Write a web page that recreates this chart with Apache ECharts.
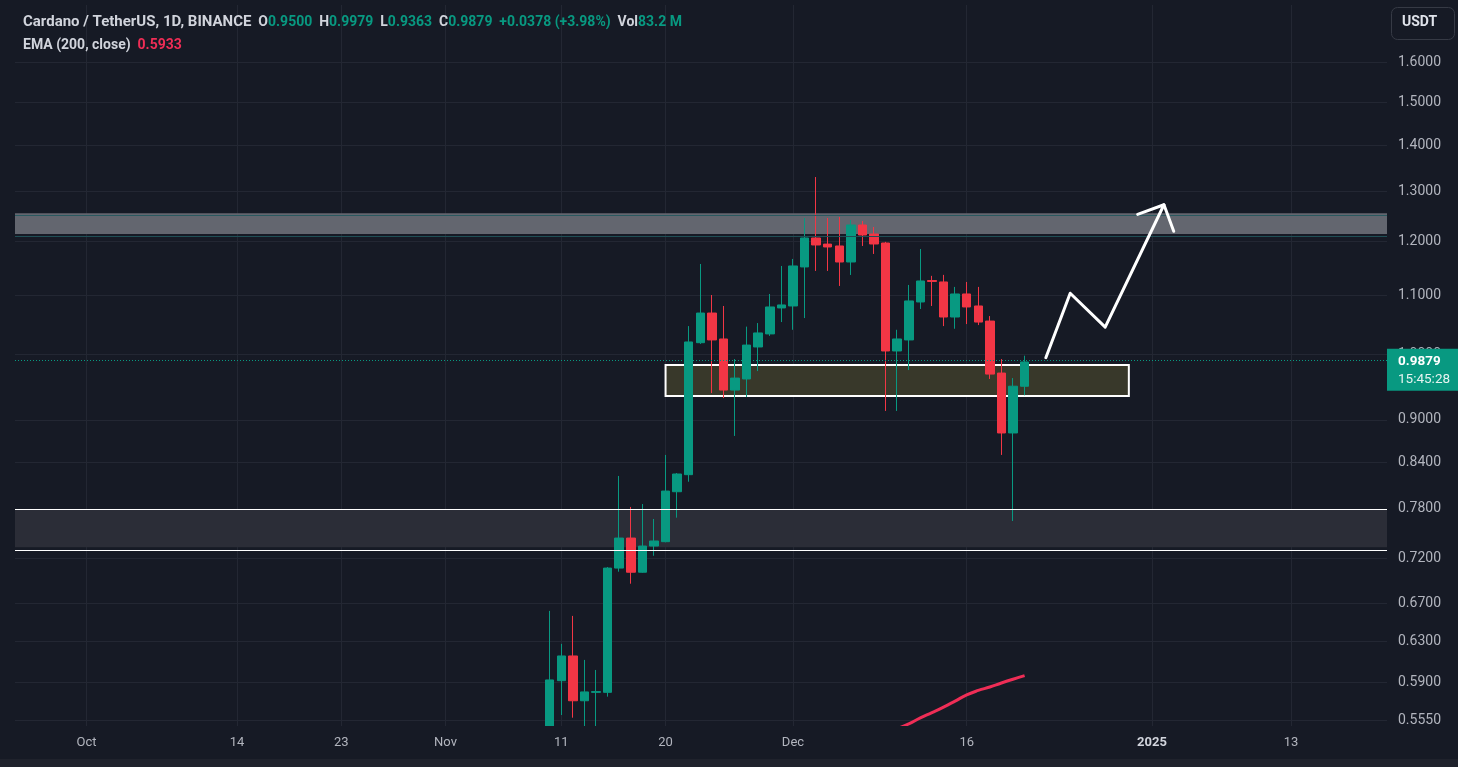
<!DOCTYPE html>
<html>
<head>
<meta charset="utf-8">
<script src="https://cdn.jsdelivr.net/npm/echarts@6/dist/echarts.min.js"></script>
<style>
html,body{margin:0;padding:0;background:#161a25;}
#c{width:1458px;height:767px;}
</style>
</head>
<body>
<div id="c"></div>
<script>
// ---------- data ----------
const dates = ['2024-11-10','2024-11-11','2024-11-12','2024-11-13','2024-11-14','2024-11-15','2024-11-16','2024-11-17','2024-11-18','2024-11-19','2024-11-20','2024-11-21','2024-11-22','2024-11-23','2024-11-24','2024-11-25','2024-11-26','2024-11-27','2024-11-28','2024-11-29','2024-11-30','2024-12-01','2024-12-02','2024-12-03','2024-12-04','2024-12-05','2024-12-06','2024-12-07','2024-12-08','2024-12-09','2024-12-10','2024-12-11','2024-12-12','2024-12-13','2024-12-14','2024-12-15','2024-12-16','2024-12-17','2024-12-18','2024-12-19','2024-12-20','2024-12-21'];
const opens  = [0.5100,0.5915,0.6155,0.5727,0.5805,0.5805,0.7090,0.7441,0.7043,0.7346,0.7398,0.8017,0.8240,1.0190,1.0688,1.0251,0.9442,0.9612,1.0120,1.0335,1.0776,1.0810,1.1511,1.2060,1.1942,1.1906,1.1603,1.2315,1.2137,1.1963,1.0055,1.0235,1.0880,1.1262,1.1236,1.0620,1.1021,1.0810,1.0551,0.9704,0.8812,0.9500];
const highs  = [0.6618,0.6276,0.6565,0.6116,0.6018,0.7102,0.8223,0.7823,0.7860,0.7673,0.8506,0.8262,1.0466,1.1566,1.1003,1.0810,0.9925,1.0457,1.0517,1.1021,1.1529,1.1660,1.2454,1.3303,1.2454,1.2474,1.2413,1.2394,1.2275,1.1985,1.0404,1.1182,1.1848,1.1347,1.1365,1.1147,1.1236,1.1147,1.0636,0.9925,0.9626,0.9979];
const lows   = [0.5000,0.5597,0.5573,0.5470,0.5460,0.5765,0.7049,0.6914,0.7037,0.7232,0.7390,0.7689,0.8147,1.0170,0.9397,0.9321,0.8770,0.9336,0.9735,1.0302,1.0534,1.0404,1.0602,1.1437,1.1437,1.1164,1.1363,1.1906,1.1754,0.9130,0.9130,0.9751,1.0758,1.0810,1.0466,1.0421,1.0500,1.0483,0.9612,0.8506,0.7648,0.9363];
const closes = [0.5922,0.6155,0.5727,0.5809,0.5812,0.7090,0.7441,0.7043,0.7346,0.7406,0.8026,0.8249,1.0202,1.0688,1.0235,0.9442,0.9626,1.0151,1.0351,1.0793,1.0828,1.1529,1.2060,1.1925,1.1887,1.1603,1.2315,1.2118,1.1944,1.0055,1.0251,1.0898,1.1254,1.1245,1.0620,1.1021,1.0793,1.0534,0.9688,0.8812,0.9501,0.9879];
const volumeText = '83.2 M';

const emaDates  = ['2024-12-10','2024-12-11','2024-12-12','2024-12-13','2024-12-14','2024-12-15','2024-12-16','2024-12-17','2024-12-18','2024-12-19','2024-12-20','2024-12-21'];
const emaValues = [0.5475,0.5517,0.5571,0.5619,0.5669,0.5724,0.5781,0.5823,0.5855,0.5893,0.5929,0.5963];
const emaLast = 0.5933;

const yTicks = [0.5550,0.5900,0.6300,0.6700,0.7200,0.7800,0.8400,0.9000,1.0000,1.1000,1.2000,1.3000,1.4000,1.5000,1.6000];
const xTicks = ['2024-10-01','2024-10-14','2024-10-23','2024-11-01','2024-11-11','2024-11-20','2024-12-01','2024-12-16','2025-01-01','2025-01-13'];

// zones (price levels) and drawing
const upperZone = [1.2548, 1.2138];
const lowerZone = [0.7794, 0.7331];
const boxStart = '2024-11-20', boxEnd = '2024-12-30';
const boxPrices = [0.9830, 0.9351];
const arrowTimes  = ['2024-12-22T20:00:00Z','2024-12-24T22:30:00Z','2024-12-27T23:00:00Z','2025-01-02T00:45:00Z'];
const arrowPrices = [0.9947, 1.1034, 1.0449, 1.2723];
const headTimes  = ['2024-12-30T18:15:00Z','2025-01-02T00:45:00Z','2025-01-02T21:00:00Z'];
const headPrices = [1.2528, 1.2723, 1.2191];
const countdown = '15:45:28';

// ---------- build ----------
const DAY = 86400000;
const ts = s => Date.parse(s.length === 10 ? s + 'T00:00:00Z' : s);
const candleData = dates.map((d, i) => [ts(d), opens[i], closes[i], lows[i], highs[i]]);
const emaData = emaDates.map((d, i) => [ts(d), emaValues[i]]);
const arrowData = arrowTimes.map((t, i) => [ts(t), arrowPrices[i]]);
const headData = headTimes.map((t, i) => [ts(t), headPrices[i]]);
const n = closes.length;
const lastO = opens[n-1], lastH = highs[n-1], lastL = lows[n-1], lastC = closes[n-1];
const chg = lastC - closes[n-2];
const pct = chg / closes[n-2] * 100;
const sgn = chg >= 0 ? '+' : '';
const months = ['Jan','Feb','Mar','Apr','May','Jun','Jul','Aug','Sep','Oct','Nov','Dec'];

const UP = '#089981', DOWN = '#f23645', EMA = '#ef2d56';
const BG = '#161a25';
const GRID = '#232733';
const TXT = '#b2b5be';
const FONT = 'Roboto, "Noto Sans", sans-serif';

const origin = ts('2024-10-01');
const xMin = origin - 6.17 * DAY;
const xMax = origin + 112.29 * DAY;
const xTickVals = xTicks.map(ts);

const xLabelFormatter = function (v) {
  const d = new Date(v);
  if (d.getUTCDate() === 1) {
    if (d.getUTCMonth() === 0) return '{b|' + d.getUTCFullYear() + '}';
    return months[d.getUTCMonth()];
  }
  return String(d.getUTCDate());
};

const chart = echarts.init(document.getElementById('c'), null, {renderer: 'canvas'});
chart.setOption({
  backgroundColor: BG,
  animation: false,
  textStyle: {fontFamily: FONT},
  title: {
    left: 18, top: 6,
    text: '{t|Cardano / TetherUS, 1D, BINANCE}  {w|O}{g|' + lastO.toFixed(4) + '}  {w|H}{g|' + lastH.toFixed(4) +
          '}  {w|L}{g|' + lastL.toFixed(4) + '}  {w|C}{g|' + lastC.toFixed(4) + '}  {g|' + sgn + chg.toFixed(4) +
          ' (' + sgn + pct.toFixed(2) + '%)}  {w|Vol}{g|' + volumeText + '}\n{w|EMA (200, close)}  {r|' + emaLast.toFixed(4) + '}',
    textStyle: {
      fontSize: 14,
      rich: {
        t: {color: '#d1d4dc', fontSize: 15, fontFamily: FONT, lineHeight: 23},
        w: {color: '#d1d4dc', fontSize: 14, fontFamily: FONT, lineHeight: 23},
        g: {color: UP, fontSize: 14, fontFamily: FONT, lineHeight: 23},
        r: {color: EMA, fontSize: 14, fontFamily: FONT, lineHeight: 23}
      }
    }
  },
  graphic: [
    {type: 'rect', z: 10, left: 0, top: 726, shape: {width: 1387, height: 33}, style: {fill: BG}},
    {type: 'rect', z: 10, left: 0, top: 759, shape: {width: 1458, height: 8}, style: {fill: '#1f222c'}},
    {type: 'rect', z: 10, left: 1391, top: 7, shape: {width: 63, height: 32, r: 6}, style: {fill: 'transparent', stroke: '#363a45', lineWidth: 1}},
    {type: 'text', z: 10, left: 1402, top: 15, style: {text: 'USDT', fill: '#e0e3eb', fontSize: 14, fontWeight: 'bold', fontFamily: FONT}}
  ],
  grid: {left: 15, right: 71, top: 5, bottom: 41},
  xAxis: [
    {
      type: 'value', position: 'bottom',
      min: xMin, max: xMax,
      axisLine: {show: false},
      axisTick: {show: false, customValues: xTickVals},
      splitLine: {show: true, lineStyle: {color: GRID, width: 1}},
      axisLabel: {show: false}
    },
    {
      type: 'value', position: 'bottom', offset: 0, z: 20,
      min: xMin, max: xMax,
      axisLine: {show: false},
      axisTick: {show: false, customValues: xTickVals},
      splitLine: {show: false},
      axisLabel: {
        customValues: xTickVals,
        color: TXT, fontSize: 13, fontFamily: FONT, margin: 10,
        formatter: xLabelFormatter,
        rich: {b: {fontWeight: 'bold', color: '#d1d4dc', fontSize: 13, fontFamily: FONT}}
      }
    }
  ],
  yAxis: {
    type: 'log', logBase: 10,
    min: 0.5499, max: 1.7546,
    position: 'right',
    axisLine: {show: false},
    axisTick: {show: false, customValues: yTicks},
    splitLine: {show: true, lineStyle: {color: GRID, width: 1}},
    axisLabel: {
      customValues: yTicks,
      color: TXT, fontSize: 14, fontFamily: FONT, margin: 11,
      formatter: v => Number(v).toFixed(4)
    }
  },
  series: [
    {
      name: 'zones', type: 'line', data: [], z: 1, silent: true,
      markArea: {
        silent: true,
        data: [
          [{yAxis: upperZone[0], itemStyle: {color: '#63666f', borderWidth: 0}}, {yAxis: upperZone[1]}],
          [{yAxis: lowerZone[0], itemStyle: {color: '#2b2d37', borderWidth: 0}}, {yAxis: lowerZone[1]}],
          [{xAxis: ts(boxStart), yAxis: boxPrices[0], itemStyle: {color: '#38382a', borderColor: '#ffffff', borderWidth: 2}}, {xAxis: ts(boxEnd), yAxis: boxPrices[1]}]
        ]
      },
      markLine: {
        silent: true, symbol: 'none', label: {show: false},
        data: [
          {yAxis: lowerZone[0], lineStyle: {color: '#ffffff', width: 1, type: 'solid'}},
          {yAxis: lowerZone[1], lineStyle: {color: '#ffffff', width: 1, type: 'solid'}},
          {yAxis: upperZone[0], lineStyle: {color: '#2a5960', width: 1, type: 'solid'}},
          {yAxis: upperZone[1], lineStyle: {color: '#1f4e55', width: 1, type: 'solid'}}
        ]
      }
    },
    {
      name: 'ADAUSDT', type: 'candlestick', z: 3,
      data: candleData,
      encode: {x: 0, y: [1, 2, 3, 4]},
      barWidth: 9,
      itemStyle: {color: UP, color0: DOWN, borderColor: UP, borderColor0: DOWN, borderWidth: 1},
      markLine: {
        silent: true, symbol: 'none', z: 6,
        lineStyle: {color: UP, width: 1, type: [1, 2]},
        data: [{yAxis: lastC}],
        label: {
          show: true, position: 'end', distance: 0, offset: [0, 9],
          formatter: '{p|' + lastC.toFixed(4) + '}\n{t|' + countdown + '}',
          backgroundColor: UP, padding: [4, 10, 2, 11],
          rich: {
            p: {color: '#ffffff', fontSize: 13.5, fontWeight: 'bold', fontFamily: FONT, lineHeight: 18},
            t: {color: '#e6f4f1', fontSize: 13.5, fontFamily: FONT, lineHeight: 18}
          }
        }
      }
    },
    {
      name: 'EMA (200, close)', type: 'line', z: 4,
      data: emaData, showSymbol: false, smooth: true,
      lineStyle: {color: EMA, width: 3}
    },
    {
      name: 'arrow', type: 'line', z: 5, silent: true,
      data: arrowData, showSymbol: false,
      lineStyle: {color: '#ffffff', width: 3, cap: 'round', join: 'round'}
    },
    {
      name: 'arrowHead', type: 'line', z: 5, silent: true,
      data: headData, showSymbol: false,
      lineStyle: {color: '#ffffff', width: 3, cap: 'round', join: 'round'}
    }
  ]
});
</script>
</body>
</html>
